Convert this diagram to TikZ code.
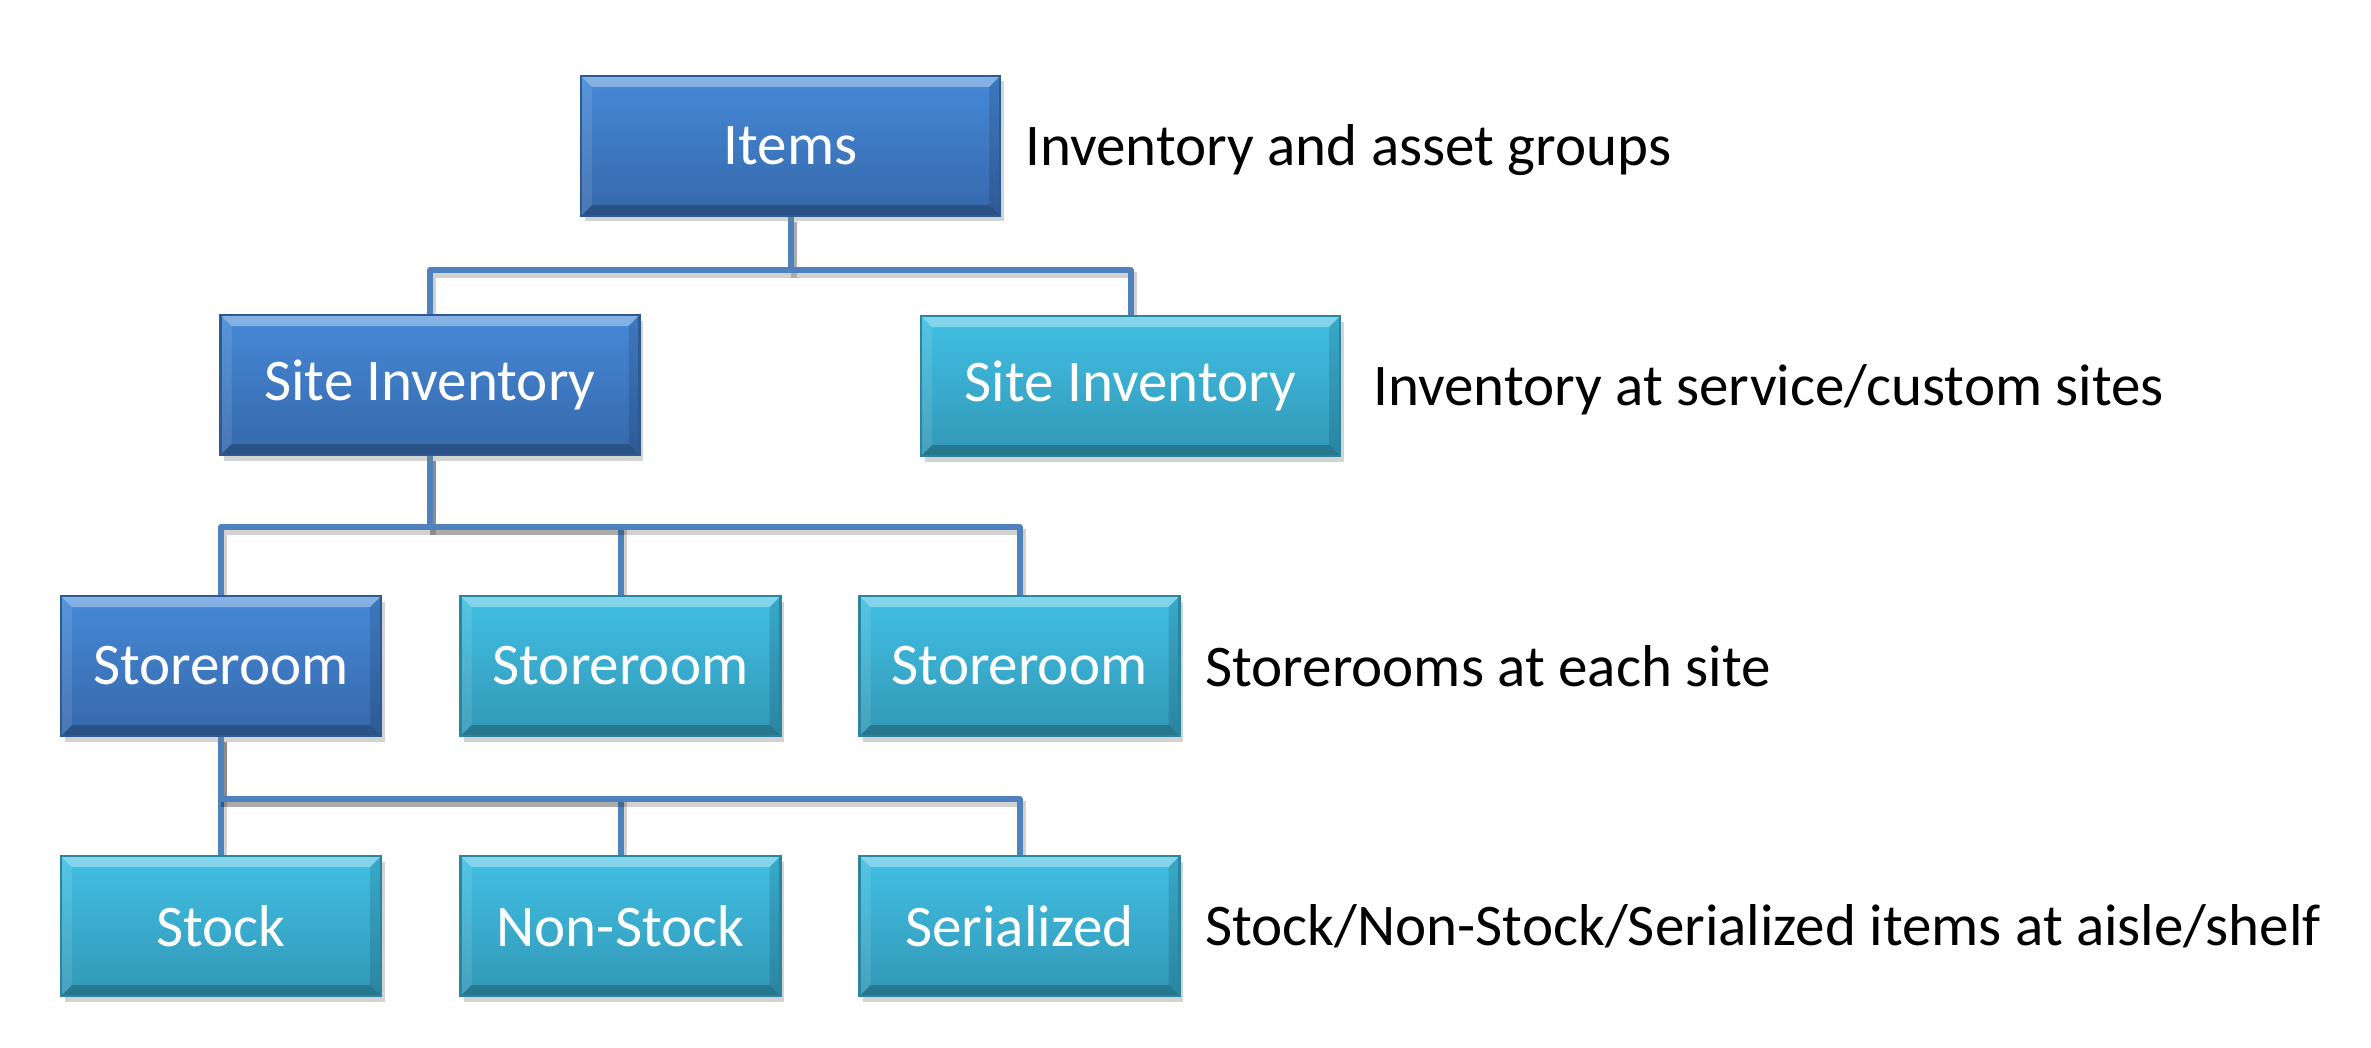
\documentclass[tikz,border=0pt]{standalone}
\usepackage{fontspec}
\setmainfont{Carlito}
\usetikzlibrary{shadows,backgrounds}

\definecolor{darktop}{HTML}{4689D8}
\definecolor{darkbot}{HTML}{3668AA}
\definecolor{darkrim}{HTML}{2E5A94}
\definecolor{lighttop}{HTML}{41C0E4}
\definecolor{lightbot}{HTML}{3297B6}
\definecolor{lightrim}{HTML}{2A869F}
\definecolor{linkblue}{HTML}{4F81BD}

\tikzset{
  bevel/.style={path picture={
      \fill[white,opacity=0.35] (path picture bounding box.north west) -- (path picture bounding box.north east)
        -- ([xshift=-1.1mm,yshift=-1.1mm]path picture bounding box.north east) -- ([xshift=1.1mm,yshift=-1.1mm]path picture bounding box.north west) -- cycle;
      \fill[black,opacity=0.22] (path picture bounding box.south west) -- (path picture bounding box.south east)
        -- ([xshift=-1.1mm,yshift=1.1mm]path picture bounding box.south east) -- ([xshift=1.1mm,yshift=1.1mm]path picture bounding box.south west) -- cycle;
      \fill[black,opacity=0.12] (path picture bounding box.north east) -- (path picture bounding box.south east)
        -- ([xshift=-1.1mm,yshift=1.1mm]path picture bounding box.south east) -- ([xshift=-1.1mm,yshift=-1.1mm]path picture bounding box.north east) -- cycle;
      \fill[white,opacity=0.10] (path picture bounding box.north west) -- (path picture bounding box.south west)
        -- ([xshift=1.1mm,yshift=1.1mm]path picture bounding box.south west) -- ([xshift=1.1mm,yshift=-1.1mm]path picture bounding box.north west) -- cycle;
    }},
  box/.style={rectangle, minimum height=14mm, text=white, line width=0.25mm, bevel,
    drop shadow={shadow xshift=0.35mm, shadow yshift=-0.55mm, opacity=0.35}},
  darkbox/.style={box, draw=darkrim, top color=darktop, bottom color=darkbot},
  lightbox/.style={box, draw=lightrim, top color=lighttop, bottom color=lightbot},
  wide/.style={minimum width=41.9mm},
  narrow/.style={minimum width=32mm},
  note/.style={anchor=west, text=black},
  link/.style={draw=linkblue, line width=0.6mm, line join=round,
    preaction={draw=black, opacity=0.18, line width=0.6mm, transform canvas={shift={(0.3mm,-0.45mm)}}}}
}

\begin{document}
\begin{tikzpicture}[x=0.1mm, y=-0.1mm, font=\fontsize{16.8pt}{20pt}\selectfont]
	\useasboundingbox (0,0) rectangle (2371,1047);
	% boxes
	\node[darkbox, wide] (items) at (790.5,146) {Items};
	\node[darkbox, wide] (siteA) at (430,385) {Site Inventory};
	\node[lightbox, wide] (siteB) at (1130.5,386) {Site Inventory};
	\node[darkbox, narrow] (roomA) at (221,666) {Storeroom};
	\node[lightbox, narrow] (roomB) at (620.5,666) {Storeroom};
	\node[lightbox, narrow] (roomC) at (1019.5,666) {Storeroom};
	\node[lightbox, narrow] (stock) at (221,926) {Stock};
	\node[lightbox, narrow] (nonstock) at (620.5,926) {Non-Stock};
	\node[lightbox, narrow] (serial) at (1019.5,926) {Serialized};
	% notes on the right
	\node[note] (noteItems) at (1013,150) {Inventory and asset groups};
	\node[note] (noteSite) at (1361,390) {Inventory at service/custom sites};
	\node[note] (noteRoom) at (1193,666) {Storerooms at each site};
	\node[note] (noteStock) at (1193,926) {Stock/Non-Stock/Serialized items at aisle/shelf};
	% tree links
	\begin{scope}[on background layer]
		\draw[link] (items.south) -- ++(0,53) -| (siteA.north);
		\draw[link] (items.south) -- ++(0,53) -| (siteB.north);
		\foreach \c in {roomA,roomB,roomC}
			\draw[link] (siteA.south) -- ++(0,71) -| (\c.north);
		\foreach \c in {stock,nonstock,serial}
			\draw[link] (roomA.south) -- ++(0,62) -| (\c.north);
	\end{scope}
\end{tikzpicture}
\end{document}
